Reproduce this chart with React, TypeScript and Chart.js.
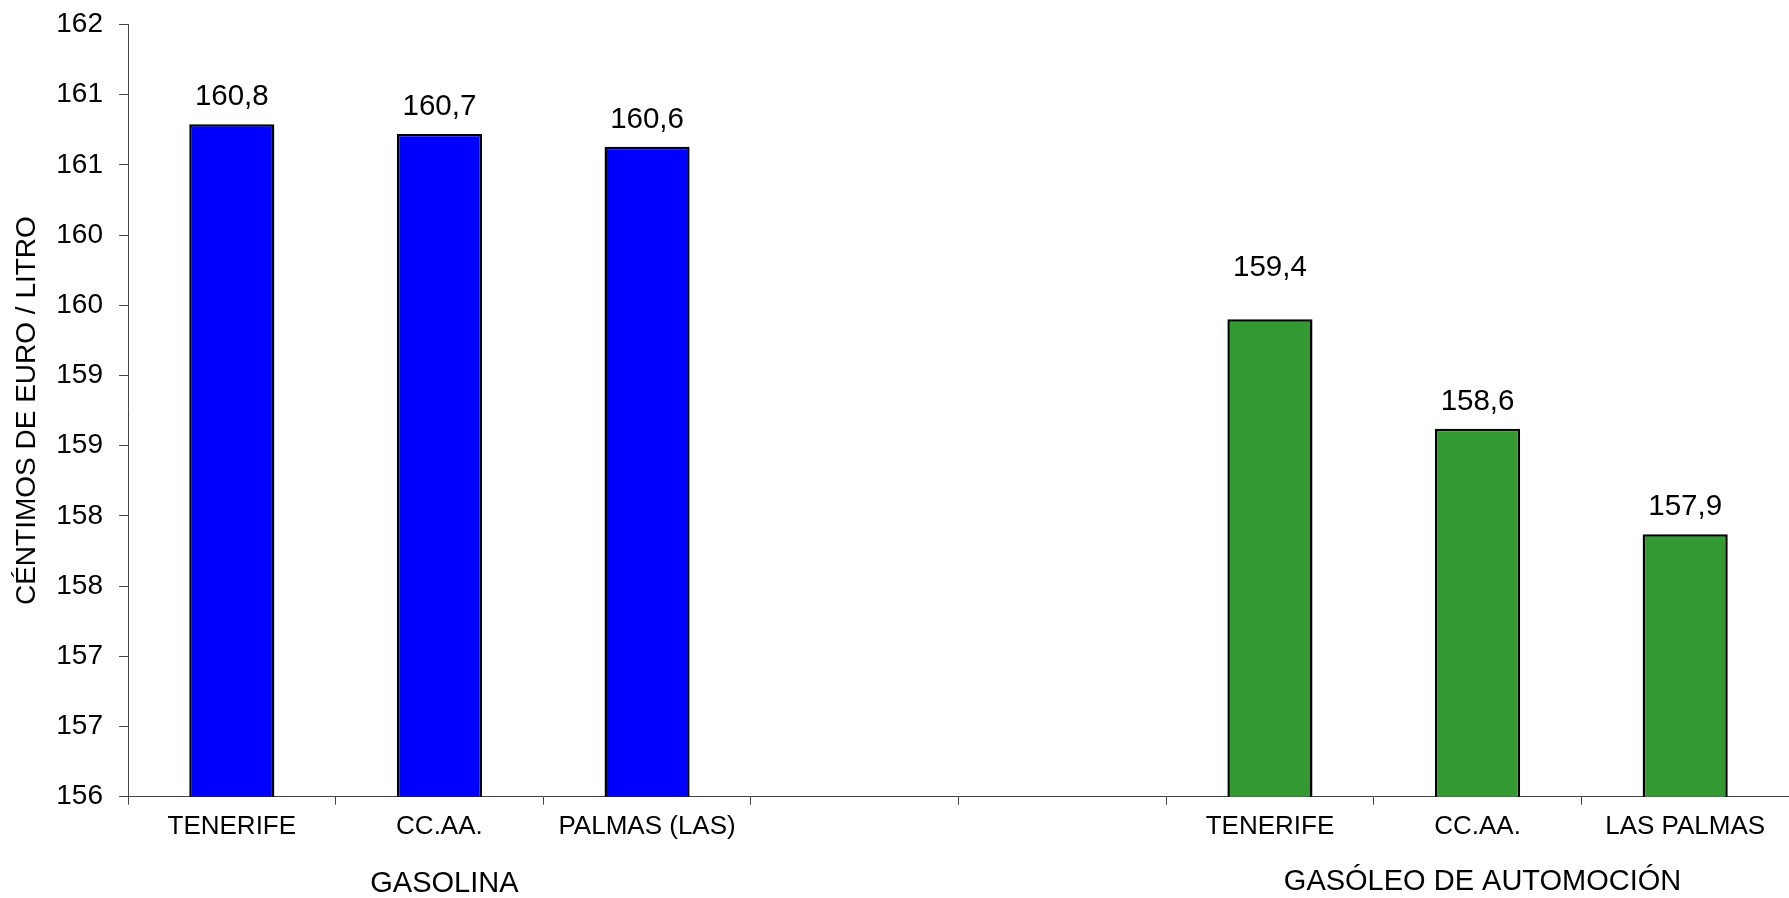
import React, { useEffect, useRef } from "react";
import { Chart, registerables } from "chart.js";

Chart.register(...registerables);

const categories = ["TENERIFE", "CC.AA.", "PALMAS (LAS)", "", "", "TENERIFE", "CC.AA.", "LAS PALMAS"];
const gasolinaValues = [160.79, 160.72, 160.63, null, null, null, null, null];
const gasoleoValues = [null, null, null, null, null, 159.4, 158.62, 157.87];
const groupLabels = ["GASOLINA", "GASÓLEO DE AUTOMOCIÓN"];
const groupCenterIndex = [1, 6];
const yTitle = "CÉNTIMOS DE EURO / LITRO";

const FONT = "'Liberation Sans', Arial, Helvetica, sans-serif";

const fmt = (v: number) => v.toFixed(1).replace(".", ",");

const overlayPlugin = {
  id: "overlay",
  afterDatasetsDraw(chart: any, _args: any, opts: any) {
    const ctx = chart.ctx;
    ctx.save();
    ctx.fillStyle = "#000";
    ctx.font = `29.5px ${FONT}`;
    ctx.textAlign = "center";
    ctx.textBaseline = "middle";
    chart.data.datasets.forEach((ds: any, di: number) => {
      const meta = chart.getDatasetMeta(di);
      meta.data.forEach((bar: any, i: number) => {
        const v = ds.data[i];
        if (v === null || v === undefined) return;
        const extra = (opts.extraLift && opts.extraLift[di] && opts.extraLift[di][i]) || 0;
        ctx.fillText(fmt(v), bar.x, bar.y - 27 - extra);
      });
    });
    const xs = chart.scales.x;
    ctx.font = `29px ${FONT}`;
    groupLabels.forEach((g, k) => {
      const x = xs.getPixelForValue(groupCenterIndex[k]);
      ctx.fillText(g, x + 5, k === 0 ? 884 : 882);
    });
    ctx.restore();
  },
};

export default function App() {
  const ref = useRef<HTMLCanvasElement>(null);
  useEffect(() => {
    if (!ref.current) return;
    const chart = new Chart(ref.current, {
      type: "bar",
      data: {
        labels: categories,
        datasets: [
          {
            label: "Gasolina",
            data: gasolinaValues as any,
            backgroundColor: "#0000FF",
            borderColor: "#000000",
            borderWidth: 2.5,
            grouped: false,
            barPercentage: 0.41,
            categoryPercentage: 1,
          } as any,
          {
            label: "Gasóleo",
            data: gasoleoValues as any,
            backgroundColor: "#339933",
            borderColor: "#000000",
            borderWidth: 2.5,
            grouped: false,
            barPercentage: 0.41,
            categoryPercentage: 1,
          } as any,
        ],
      },
      options: {
        responsive: false,
        animation: false,
        layout: { padding: { top: 24.5, right: 0, bottom: 0, left: 0 } },
        plugins: {
          legend: { display: false },
          tooltip: { enabled: false },
          overlay: { extraLift: [[], [0, 0, 0, 0, 0, 24, 0, 0]] },
        } as any,
        scales: {
          x: {
            grid: {
              display: true,
              drawOnChartArea: false,
              drawTicks: true,
              tickLength: 8,
              color: "#444",
              offset: true,
            },
            border: { display: true, color: "#444", width: 1 },
            ticks: {
              color: "#000",
              font: { family: FONT, size: 26 },
              padding: 7,
              maxRotation: 0,
              autoSkip: false,
            },
            afterFit: (s: any) => {
              s.height = 101.3;
              s.paddingLeft = 0;
              s.paddingRight = 0;
            },
          },
          y: {
            min: 156,
            max: 161.5,
            grid: {
              display: true,
              drawOnChartArea: false,
              drawTicks: true,
              tickLength: 9,
              color: "#444",
            },
            border: { display: true, color: "#444", width: 1 },
            ticks: {
              stepSize: 0.5,
              color: "#000",
              font: { family: FONT, size: 28 },
              padding: 16,
              callback: (v: any) => String(Math.round(Number(v))),
            },
            title: {
              display: true,
              text: yTitle,
              color: "#000",
              font: { family: FONT, size: 28 },
              padding: { top: 10, bottom: 0 },
            },
            afterFit: (s: any) => {
              s.width = 128;
              s.paddingTop = 0;
              s.paddingBottom = 0;
            },
          },
        },
      },
      plugins: [overlayPlugin],
    });
    return () => chart.destroy();
  }, []);
  return (
    <div style={{ position: "absolute", left: 0, top: 0, width: 1789, height: 898, background: "#fff" }}>
      <canvas ref={ref} width={1789} height={898} />
    </div>
  );
}
